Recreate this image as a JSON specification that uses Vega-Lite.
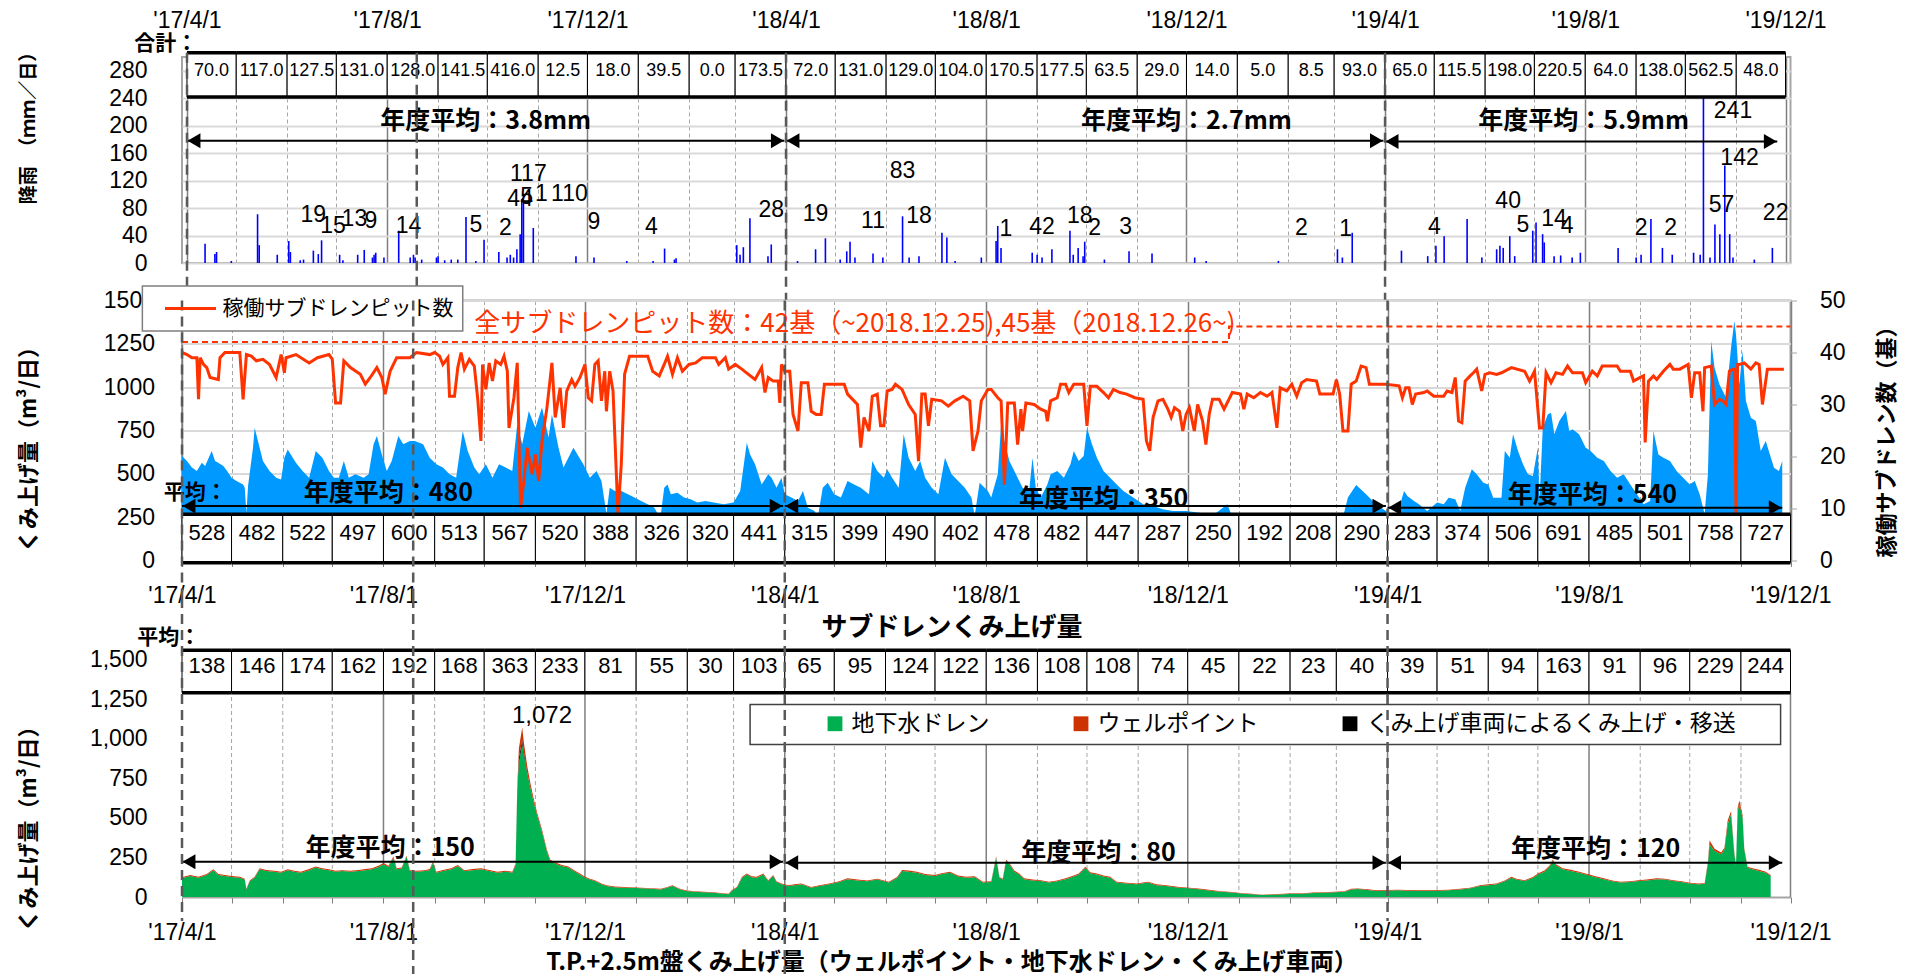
{
"$schema":"https://vega.github.io/schema/vega-lite/v6.json",
"background":"white",
"padding":{"left":16,"top":8,"right":10,"bottom":5},
"bounds":"flush",
"spacing":37.5,
"config":{"font":"Liberation Sans","view":{"stroke":null},
 "axis":{"labelFont":"Liberation Sans","labelFontSize":23,"labelColor":"black","titleColor":"black","titleFont":"Noto Sans CJK JP","titleFontWeight":"bold","labelOverlap":false,"labelBound":false}},
"resolve":{"scale":{"color":"independent","stroke":"independent"},"legend":{"color":"independent","stroke":"independent"}},
"datasets":{
"months":[
{"m":"2017-04-01","m2":"2017-05-01","rain":70.0,"sub":528,"tp":138},{"m":"2017-05-01","m2":"2017-06-01","rain":117.0,"sub":482,"tp":146},{"m":"2017-06-01","m2":"2017-07-01","rain":127.5,"sub":522,"tp":174},{"m":"2017-07-01","m2":"2017-08-01","rain":131.0,"sub":497,"tp":162},{"m":"2017-08-01","m2":"2017-09-01","rain":128.0,"sub":600,"tp":192},{"m":"2017-09-01","m2":"2017-10-01","rain":141.5,"sub":513,"tp":168},{"m":"2017-10-01","m2":"2017-11-01","rain":416.0,"sub":567,"tp":363},{"m":"2017-11-01","m2":"2017-12-01","rain":12.5,"sub":520,"tp":233},{"m":"2017-12-01","m2":"2018-01-01","rain":18.0,"sub":388,"tp":81},{"m":"2018-01-01","m2":"2018-02-01","rain":39.5,"sub":326,"tp":55},{"m":"2018-02-01","m2":"2018-03-01","rain":0.0,"sub":320,"tp":30},{"m":"2018-03-01","m2":"2018-04-01","rain":173.5,"sub":441,"tp":103},
{"m":"2018-04-01","m2":"2018-05-01","rain":72.0,"sub":315,"tp":65},{"m":"2018-05-01","m2":"2018-06-01","rain":131.0,"sub":399,"tp":95},{"m":"2018-06-01","m2":"2018-07-01","rain":129.0,"sub":490,"tp":124},{"m":"2018-07-01","m2":"2018-08-01","rain":104.0,"sub":402,"tp":122},{"m":"2018-08-01","m2":"2018-09-01","rain":170.5,"sub":478,"tp":136},{"m":"2018-09-01","m2":"2018-10-01","rain":177.5,"sub":482,"tp":108},{"m":"2018-10-01","m2":"2018-11-01","rain":63.5,"sub":447,"tp":108},{"m":"2018-11-01","m2":"2018-12-01","rain":29.0,"sub":287,"tp":74},{"m":"2018-12-01","m2":"2019-01-01","rain":14.0,"sub":250,"tp":45},{"m":"2019-01-01","m2":"2019-02-01","rain":5.0,"sub":192,"tp":22},{"m":"2019-02-01","m2":"2019-03-01","rain":8.5,"sub":208,"tp":23},{"m":"2019-03-01","m2":"2019-04-01","rain":93.0,"sub":290,"tp":40},
{"m":"2019-04-01","m2":"2019-05-01","rain":65.0,"sub":283,"tp":39},{"m":"2019-05-01","m2":"2019-06-01","rain":115.5,"sub":374,"tp":51},{"m":"2019-06-01","m2":"2019-07-01","rain":198.0,"sub":506,"tp":94},{"m":"2019-07-01","m2":"2019-08-01","rain":220.5,"sub":691,"tp":163},{"m":"2019-08-01","m2":"2019-09-01","rain":64.0,"sub":485,"tp":91},{"m":"2019-09-01","m2":"2019-10-01","rain":138.0,"sub":501,"tp":96},{"m":"2019-10-01","m2":"2019-11-01","rain":562.5,"sub":758,"tp":229},{"m":"2019-11-01","m2":"2019-12-01","rain":48.0,"sub":727,"tp":244}],
"rain":[
{"d":"2017-04-12","v":28},{"d":"2017-04-18","v":13},{"d":"2017-04-19","v":16},{"d":"2017-04-28","v":3},{"d":"2017-05-14","v":71},{"d":"2017-05-15","v":26},{"d":"2017-05-26","v":12},{"d":"2017-06-02","v":32},{"d":"2017-06-03","v":16},{"d":"2017-06-09","v":4},{"d":"2017-06-11","v":5},{"d":"2017-06-17","v":18},{"d":"2017-06-20","v":13},{"d":"2017-06-22","v":33},{"d":"2017-07-03","v":12},{"d":"2017-07-05","v":4},{"d":"2017-07-14","v":12},{"d":"2017-07-18","v":19},{"d":"2017-07-23","v":8},{"d":"2017-07-24","v":12},{"d":"2017-07-25","v":15},{"d":"2017-07-30","v":8},{"d":"2017-08-08","v":47},{"d":"2017-08-15","v":8},{"d":"2017-08-17","v":12},{"d":"2017-08-18","v":8},{"d":"2017-08-22","v":5},{"d":"2017-08-31","v":8},{"d":"2017-09-01","v":10},{"d":"2017-09-05","v":4},{"d":"2017-09-09","v":5},{"d":"2017-09-13","v":5},{"d":"2017-09-18","v":67},{"d":"2017-09-24","v":3},{"d":"2017-09-29","v":34},{"d":"2017-10-08","v":16},{"d":"2017-10-13","v":8},{"d":"2017-10-15","v":12},{"d":"2017-10-17","v":8},{"d":"2017-10-19","v":20},{"d":"2017-10-21","v":42},{"d":"2017-10-22","v":93},{"d":"2017-10-23","v":100},{"d":"2017-10-29","v":51},{"d":"2017-11-24","v":10},{"d":"2017-12-05","v":8},{"d":"2017-12-25","v":3},{"d":"2018-01-10","v":3},{"d":"2018-01-17","v":21},{"d":"2018-01-23","v":5},{"d":"2018-01-24","v":7},{"d":"2018-03-02","v":26},{"d":"2018-03-04","v":12},{"d":"2018-03-06","v":23},{"d":"2018-03-10","v":65},{"d":"2018-03-21","v":10},{"d":"2018-03-23","v":27},
{"d":"2018-04-08","v":3},{"d":"2018-04-19","v":20},{"d":"2018-04-25","v":36},{"d":"2018-05-04","v":5},{"d":"2018-05-08","v":17},{"d":"2018-05-10","v":31},{"d":"2018-05-13","v":8},{"d":"2018-05-24","v":14},{"d":"2018-05-30","v":8},{"d":"2018-06-11","v":68},{"d":"2018-06-15","v":8},{"d":"2018-06-21","v":10},{"d":"2018-07-05","v":44},{"d":"2018-07-08","v":37},{"d":"2018-07-13","v":3},{"d":"2018-07-29","v":8},{"d":"2018-08-07","v":32},{"d":"2018-08-08","v":54},{"d":"2018-08-10","v":22},{"d":"2018-08-29","v":15},{"d":"2018-09-01","v":12},{"d":"2018-09-04","v":8},{"d":"2018-09-10","v":20},{"d":"2018-09-21","v":47},{"d":"2018-09-23","v":12},{"d":"2018-09-26","v":22},{"d":"2018-09-29","v":10},{"d":"2018-09-30","v":31},{"d":"2018-10-12","v":5},{"d":"2018-10-27","v":17},{"d":"2018-11-10","v":14},{"d":"2018-12-06","v":8},{"d":"2018-12-13","v":3},{"d":"2019-01-26","v":3},{"d":"2019-03-03","v":20},{"d":"2019-03-06","v":8},{"d":"2019-03-12","v":44},
{"d":"2019-04-11","v":18},{"d":"2019-04-27","v":10},{"d":"2019-05-02","v":25},{"d":"2019-05-07","v":39},{"d":"2019-05-21","v":64},{"d":"2019-05-30","v":8},{"d":"2019-06-08","v":20},{"d":"2019-06-10","v":25},{"d":"2019-06-12","v":22},{"d":"2019-06-16","v":39},{"d":"2019-06-19","v":10},{"d":"2019-06-30","v":47},{"d":"2019-07-02","v":59},{"d":"2019-07-06","v":42},{"d":"2019-07-07","v":30},{"d":"2019-07-13","v":10},{"d":"2019-07-17","v":11},{"d":"2019-07-24","v":8},{"d":"2019-07-29","v":15},{"d":"2019-08-21","v":22},{"d":"2019-09-01","v":8},{"d":"2019-09-04","v":12},{"d":"2019-09-10","v":64},{"d":"2019-09-17","v":22},{"d":"2019-09-23","v":12},{"d":"2019-10-06","v":15},{"d":"2019-10-10","v":12},{"d":"2019-10-12","v":241},{"d":"2019-10-16","v":8},{"d":"2019-10-19","v":56},{"d":"2019-10-22","v":42},{"d":"2019-10-25","v":142},{"d":"2019-10-28","v":42},{"d":"2019-10-30","v":8},{"d":"2019-11-12","v":5},{"d":"2019-11-23","v":22}],
"rainlab":[
{"d":"2017-06-17","v":70,"t":"19"},{"d":"2017-06-29","v":54,"t":"15"},{"d":"2017-07-12","v":64,"t":"13"},{"d":"2017-07-22","v":61,"t":"9"},{"d":"2017-08-14","v":54,"t":"14"},{"d":"2017-09-24","v":56,"t":"5"},{"d":"2017-10-12","v":51,"t":"2"},{"d":"2017-10-26","v":129,"t":"117"},{"d":"2017-10-21","v":93,"t":"44"},{"d":"2017-10-25","v":96,"t":"5"},{"d":"2017-11-03","v":100,"t":"1"},{"d":"2017-11-20","v":100,"t":"110"},{"d":"2017-12-05","v":59,"t":"9"},{"d":"2018-01-09","v":52,"t":"4"},{"d":"2018-03-23","v":77,"t":"28"},
{"d":"2018-04-19","v":71,"t":"19"},{"d":"2018-05-24","v":61,"t":"11"},{"d":"2018-06-11","v":134,"t":"83"},{"d":"2018-06-21","v":68,"t":"18"},{"d":"2018-08-13","v":49,"t":"1"},{"d":"2018-09-04","v":52,"t":"42"},{"d":"2018-09-27","v":68,"t":"18"},{"d":"2018-10-06","v":51,"t":"2"},{"d":"2018-10-25","v":52,"t":"3"},{"d":"2019-02-09","v":51,"t":"2"},{"d":"2019-03-08","v":50,"t":"1"},
{"d":"2019-05-01","v":52,"t":"4"},{"d":"2019-06-15","v":90,"t":"40"},{"d":"2019-06-24","v":55,"t":"5"},{"d":"2019-07-13","v":64,"t":"14"},{"d":"2019-07-21","v":54,"t":"4"},{"d":"2019-09-04","v":51,"t":"2"},{"d":"2019-09-22","v":51,"t":"2"},{"d":"2019-10-30","v":222,"t":"241"},{"d":"2019-11-03","v":153,"t":"142"},{"d":"2019-10-23","v":84,"t":"57"},{"d":"2019-11-25","v":73,"t":"22"}],
"sub":[
{"d":"2017-04-01","v":603},{"d":"2017-04-04","v":574},{"d":"2017-04-07","v":536},{"d":"2017-04-10","v":516},{"d":"2017-04-13","v":564},{"d":"2017-04-15","v":545},{"d":"2017-04-19","v":632},{"d":"2017-04-21","v":574},{"d":"2017-04-23","v":564},{"d":"2017-04-26","v":545},{"d":"2017-04-28","v":520},{"d":"2017-05-01","v":478},{"d":"2017-05-04","v":459},{"d":"2017-05-08","v":439},{"d":"2017-05-09","v":420},{"d":"2017-05-10","v":276},{"d":"2017-05-11","v":430},{"d":"2017-05-14","v":651},{"d":"2017-05-15","v":766},{"d":"2017-05-17","v":689},{"d":"2017-05-20","v":574},{"d":"2017-05-24","v":516},{"d":"2017-05-28","v":478},{"d":"2017-05-31","v":468},{"d":"2017-06-02","v":593},{"d":"2017-06-04","v":641},{"d":"2017-06-09","v":564},{"d":"2017-06-13","v":516},{"d":"2017-06-17","v":478},{"d":"2017-06-21","v":632},{"d":"2017-06-25","v":593},{"d":"2017-06-29","v":516},{"d":"2017-07-02","v":478},{"d":"2017-07-05","v":478},{"d":"2017-07-08","v":574},{"d":"2017-07-11","v":478},{"d":"2017-07-15","v":497},{"d":"2017-07-20","v":478},{"d":"2017-07-23","v":497},{"d":"2017-07-26","v":670},{"d":"2017-07-28","v":718},{"d":"2017-07-31","v":612},{"d":"2017-08-03","v":516},{"d":"2017-08-06","v":574},{"d":"2017-08-10","v":718},{"d":"2017-08-13","v":670},{"d":"2017-08-17","v":689},{"d":"2017-08-20","v":689},{"d":"2017-08-25","v":670},{"d":"2017-08-29","v":593},{"d":"2017-09-02","v":555},{"d":"2017-09-06","v":536},{"d":"2017-09-10","v":497},{"d":"2017-09-14","v":478},{"d":"2017-09-18","v":747},{"d":"2017-09-21","v":632},{"d":"2017-09-25","v":536},{"d":"2017-09-28","v":497},{"d":"2017-10-02","v":555},{"d":"2017-10-06","v":478},{"d":"2017-10-10","v":555},{"d":"2017-10-14","v":536},{"d":"2017-10-18","v":516},{"d":"2017-10-21","v":786},{"d":"2017-10-24","v":670},{"d":"2017-10-28","v":862},{"d":"2017-11-01","v":766},{"d":"2017-11-05","v":882},{"d":"2017-11-09","v":709},{"d":"2017-11-11","v":843},{"d":"2017-11-15","v":651},{"d":"2017-11-18","v":536},{"d":"2017-11-24","v":651},{"d":"2017-11-30","v":555},{"d":"2017-12-04","v":478},{"d":"2017-12-08","v":516},{"d":"2017-12-11","v":459},{"d":"2017-12-14","v":270},{"d":"2017-12-16","v":420},{"d":"2017-12-19","v":401},{"d":"2017-12-23","v":401},{"d":"2017-12-27","v":382},{"d":"2017-12-31","v":363},{"d":"2018-01-04","v":343},{"d":"2018-01-08","v":324},{"d":"2018-01-12","v":305},{"d":"2018-01-14","v":270},{"d":"2018-01-16","v":270},{"d":"2018-01-18","v":420},{"d":"2018-01-20","v":439},{"d":"2018-01-22","v":382},{"d":"2018-01-26","v":391},{"d":"2018-01-30","v":363},{"d":"2018-02-03","v":353},{"d":"2018-02-07","v":334},{"d":"2018-02-12","v":343},{"d":"2018-02-17","v":334},{"d":"2018-02-23","v":324},{"d":"2018-03-01","v":334},{"d":"2018-03-05","v":401},{"d":"2018-03-09","v":680},{"d":"2018-03-11","v":612},{"d":"2018-03-14","v":555},{"d":"2018-03-18","v":439},{"d":"2018-03-22","v":497},{"d":"2018-03-24","v":478},{"d":"2018-03-27","v":420},{"d":"2018-03-30","v":478},
{"d":"2018-04-01","v":382},{"d":"2018-04-05","v":363},{"d":"2018-04-09","v":343},{"d":"2018-04-12","v":401},{"d":"2018-04-15","v":305},{"d":"2018-04-19","v":286},{"d":"2018-04-21","v":250},{"d":"2018-04-24","v":420},{"d":"2018-04-27","v":449},{"d":"2018-05-01","v":382},{"d":"2018-05-05","v":363},{"d":"2018-05-09","v":459},{"d":"2018-05-13","v":439},{"d":"2018-05-17","v":420},{"d":"2018-05-22","v":382},{"d":"2018-05-24","v":574},{"d":"2018-05-27","v":516},{"d":"2018-05-31","v":478},{"d":"2018-06-02","v":526},{"d":"2018-06-05","v":478},{"d":"2018-06-09","v":420},{"d":"2018-06-12","v":728},{"d":"2018-06-15","v":593},{"d":"2018-06-19","v":516},{"d":"2018-06-22","v":574},{"d":"2018-06-25","v":478},{"d":"2018-06-29","v":420},{"d":"2018-07-03","v":382},{"d":"2018-07-07","v":593},{"d":"2018-07-11","v":497},{"d":"2018-07-15","v":459},{"d":"2018-07-19","v":420},{"d":"2018-07-23","v":363},{"d":"2018-07-25","v":260},{"d":"2018-07-28","v":449},{"d":"2018-08-02","v":401},{"d":"2018-08-04","v":363},{"d":"2018-08-08","v":497},{"d":"2018-08-10","v":786},{"d":"2018-08-12","v":689},{"d":"2018-08-15","v":574},{"d":"2018-08-19","v":497},{"d":"2018-08-23","v":420},{"d":"2018-08-27","v":401},{"d":"2018-08-29","v":593},{"d":"2018-08-31","v":420},{"d":"2018-09-03","v":363},{"d":"2018-09-07","v":439},{"d":"2018-09-09","v":497},{"d":"2018-09-13","v":516},{"d":"2018-09-17","v":478},{"d":"2018-09-21","v":555},{"d":"2018-09-23","v":632},{"d":"2018-09-26","v":574},{"d":"2018-09-29","v":603},{"d":"2018-10-01","v":766},{"d":"2018-10-04","v":670},{"d":"2018-10-07","v":593},{"d":"2018-10-11","v":516},{"d":"2018-10-15","v":478},{"d":"2018-10-19","v":439},{"d":"2018-10-23","v":401},{"d":"2018-10-29","v":363},{"d":"2018-11-04","v":324},{"d":"2018-11-10","v":314},{"d":"2018-11-16","v":295},{"d":"2018-11-22","v":286},{"d":"2018-11-30","v":286},{"d":"2018-12-08","v":276},{"d":"2018-12-17","v":266},{"d":"2018-12-25","v":324},{"d":"2018-12-28","v":250},{"d":"2019-01-06","v":230},{"d":"2019-01-16","v":210},{"d":"2019-01-26","v":200},{"d":"2019-02-05","v":215},{"d":"2019-02-15","v":205},{"d":"2019-02-25","v":210},{"d":"2019-03-05","v":250},{"d":"2019-03-08","v":363},{"d":"2019-03-13","v":436},{"d":"2019-03-19","v":382},{"d":"2019-03-25","v":324},{"d":"2019-03-31","v":286},
{"d":"2019-04-02","v":266},{"d":"2019-04-06","v":240},{"d":"2019-04-11","v":401},{"d":"2019-04-13","v":372},{"d":"2019-04-17","v":343},{"d":"2019-04-20","v":324},{"d":"2019-04-25","v":286},{"d":"2019-05-01","v":334},{"d":"2019-05-05","v":324},{"d":"2019-05-08","v":362},{"d":"2019-05-12","v":353},{"d":"2019-05-15","v":286},{"d":"2019-05-18","v":420},{"d":"2019-05-22","v":526},{"d":"2019-05-25","v":497},{"d":"2019-05-29","v":449},{"d":"2019-06-01","v":439},{"d":"2019-06-04","v":362},{"d":"2019-06-09","v":362},{"d":"2019-06-11","v":632},{"d":"2019-06-14","v":593},{"d":"2019-06-16","v":728},{"d":"2019-06-19","v":632},{"d":"2019-06-22","v":555},{"d":"2019-06-25","v":497},{"d":"2019-06-28","v":487},{"d":"2019-07-01","v":651},{"d":"2019-07-02","v":343},{"d":"2019-07-04","v":766},{"d":"2019-07-07","v":843},{"d":"2019-07-09","v":853},{"d":"2019-07-11","v":728},{"d":"2019-07-14","v":805},{"d":"2019-07-18","v":862},{"d":"2019-07-20","v":747},{"d":"2019-07-22","v":757},{"d":"2019-07-26","v":728},{"d":"2019-07-30","v":651},{"d":"2019-08-02","v":632},{"d":"2019-08-06","v":593},{"d":"2019-08-10","v":574},{"d":"2019-08-14","v":516},{"d":"2019-08-18","v":478},{"d":"2019-08-22","v":497},{"d":"2019-08-26","v":439},{"d":"2019-08-30","v":382},{"d":"2019-09-03","v":324},{"d":"2019-09-07","v":343},{"d":"2019-09-09","v":747},{"d":"2019-09-12","v":612},{"d":"2019-09-15","v":593},{"d":"2019-09-19","v":574},{"d":"2019-09-23","v":516},{"d":"2019-09-27","v":478},{"d":"2019-10-01","v":439},{"d":"2019-10-04","v":459},{"d":"2019-10-07","v":382},{"d":"2019-10-10","v":270},{"d":"2019-10-12","v":497},{"d":"2019-10-14","v":1266},{"d":"2019-10-16","v":1112},{"d":"2019-10-19","v":1016},{"d":"2019-10-23","v":939},{"d":"2019-10-26","v":1228},{"d":"2019-10-28","v":1382},{"d":"2019-10-29","v":1305},{"d":"2019-10-31","v":1016},{"d":"2019-11-02","v":1209},{"d":"2019-11-04","v":920},{"d":"2019-11-07","v":824},{"d":"2019-11-10","v":805},{"d":"2019-11-13","v":632},{"d":"2019-11-16","v":690},{"d":"2019-11-21","v":535},{"d":"2019-11-24","v":516},{"d":"2019-11-26","v":574}],
"pits":[
{"d":"2017-04-01","n":40},{"d":"2017-04-04","n":39.6},{"d":"2017-04-07","n":39},{"d":"2017-04-10","n":39},{"d":"2017-04-11","n":31},{"d":"2017-04-12","n":39},{"d":"2017-04-14","n":37.7},{"d":"2017-04-16","n":37.1},{"d":"2017-04-18","n":35.2},{"d":"2017-04-23","n":34.8},{"d":"2017-04-24","n":39},{"d":"2017-04-27","n":40},{"d":"2017-05-06","n":40},{"d":"2017-05-08","n":31},{"d":"2017-05-10","n":39.6},{"d":"2017-05-13","n":39.3},{"d":"2017-05-16","n":38.4},{"d":"2017-05-20","n":38.7},{"d":"2017-05-24","n":37.7},{"d":"2017-05-28","n":35.2},{"d":"2017-05-31","n":39.6},{"d":"2017-06-02","n":36.1},{"d":"2017-06-03","n":39},{"d":"2017-06-09","n":39.6},{"d":"2017-06-17","n":38},{"d":"2017-06-22","n":39},{"d":"2017-06-29","n":39.6},{"d":"2017-07-01","n":38.7},{"d":"2017-07-03","n":30.3},{"d":"2017-07-06","n":30.3},{"d":"2017-07-08","n":38.4},{"d":"2017-07-12","n":37.1},{"d":"2017-07-18","n":35.8},{"d":"2017-07-21","n":33.9},{"d":"2017-07-24","n":35.2},{"d":"2017-07-28","n":37.1},{"d":"2017-07-31","n":35.2},{"d":"2017-08-02","n":32},{"d":"2017-08-05","n":36.4},{"d":"2017-08-09","n":39},{"d":"2017-08-17","n":39},{"d":"2017-08-21","n":40},{"d":"2017-08-29","n":39.6},{"d":"2017-09-01","n":40},{"d":"2017-09-04","n":39.3},{"d":"2017-09-06","n":37.7},{"d":"2017-09-09","n":39},{"d":"2017-09-10","n":31.6},{"d":"2017-09-13","n":31.6},{"d":"2017-09-15","n":37.1},{"d":"2017-09-17","n":40},{"d":"2017-09-19","n":36.8},{"d":"2017-09-22","n":38.7},{"d":"2017-09-25","n":37.4},{"d":"2017-09-27","n":31.3},{"d":"2017-09-29","n":23},{"d":"2017-09-30","n":37.7},{"d":"2017-10-02","n":32.9},{"d":"2017-10-04","n":38},{"d":"2017-10-06","n":34.5},{"d":"2017-10-08","n":38.4},{"d":"2017-10-11","n":37.7},{"d":"2017-10-13","n":39.3},{"d":"2017-10-15","n":36.4},{"d":"2017-10-16","n":25.5},{"d":"2017-10-19","n":31.3},{"d":"2017-10-21","n":38},{"d":"2017-10-23","n":10.1},{"d":"2017-10-25","n":15.3},{"d":"2017-10-27","n":21.7},{"d":"2017-10-30","n":16.6},{"d":"2017-11-01","n":20.4},{"d":"2017-11-03","n":15.3},{"d":"2017-11-05","n":23},{"d":"2017-11-08","n":29.4},{"d":"2017-11-11","n":38},{"d":"2017-11-13","n":27.5},{"d":"2017-11-16","n":33.2},{"d":"2017-11-18","n":25.5},{"d":"2017-11-20","n":32.6},{"d":"2017-11-23","n":34.8},{"d":"2017-11-25","n":33.5},{"d":"2017-11-28","n":35.2},{"d":"2017-12-01","n":37.7},{"d":"2017-12-03","n":31.3},{"d":"2017-12-05","n":30.7},{"d":"2017-12-07","n":37.7},{"d":"2017-12-09","n":38.4},{"d":"2017-12-11","n":30.7},{"d":"2017-12-13","n":36.4},{"d":"2017-12-14","n":28.7},{"d":"2017-12-16","n":36.4},{"d":"2017-12-18","n":32.6},{"d":"2017-12-21","n":8.9},{"d":"2017-12-23","n":18.5},{"d":"2017-12-25","n":35.8},{"d":"2017-12-28","n":39.3},{"d":"2018-01-08","n":39.3},{"d":"2018-01-11","n":36.4},{"d":"2018-01-15","n":35.5},{"d":"2018-01-18","n":37.7},{"d":"2018-01-20","n":39.3},{"d":"2018-01-23","n":35.8},{"d":"2018-01-26","n":39},{"d":"2018-01-29","n":36.4},{"d":"2018-02-02","n":37.7},{"d":"2018-02-06","n":38},{"d":"2018-02-10","n":39},{"d":"2018-02-18","n":39},{"d":"2018-02-20","n":37.7},{"d":"2018-02-24","n":39},{"d":"2018-02-26","n":36.8},{"d":"2018-03-02","n":37.7},{"d":"2018-03-06","n":36.8},{"d":"2018-03-10","n":35.8},{"d":"2018-03-14","n":34.8},{"d":"2018-03-18","n":37.1},{"d":"2018-03-20","n":32.3},{"d":"2018-03-22","n":35.2},{"d":"2018-03-25","n":34.5},{"d":"2018-03-28","n":34.5},{"d":"2018-03-29","n":30.3},{"d":"2018-03-30","n":37.7},
{"d":"2018-04-01","n":36.4},{"d":"2018-04-04","n":36.4},{"d":"2018-04-06","n":28.1},{"d":"2018-04-09","n":24.9},{"d":"2018-04-11","n":34.2},{"d":"2018-04-15","n":34.2},{"d":"2018-04-17","n":28.7},{"d":"2018-04-20","n":28.1},{"d":"2018-04-23","n":28.1},{"d":"2018-04-25","n":33.9},{"d":"2018-05-07","n":33.9},{"d":"2018-05-09","n":32},{"d":"2018-05-15","n":30},{"d":"2018-05-17","n":21.7},{"d":"2018-05-19","n":27.5},{"d":"2018-05-22","n":24.9},{"d":"2018-05-24","n":31.6},{"d":"2018-05-27","n":32},{"d":"2018-05-29","n":25.9},{"d":"2018-05-31","n":25.9},{"d":"2018-06-02","n":32.6},{"d":"2018-06-05","n":32.9},{"d":"2018-06-07","n":33.9},{"d":"2018-06-11","n":32.9},{"d":"2018-06-15","n":30},{"d":"2018-06-19","n":28.1},{"d":"2018-06-21","n":19.1},{"d":"2018-06-23","n":32},{"d":"2018-06-25","n":32},{"d":"2018-06-27","n":25.9},{"d":"2018-06-29","n":31},{"d":"2018-07-05","n":30.7},{"d":"2018-07-09","n":29.7},{"d":"2018-07-13","n":30.7},{"d":"2018-07-18","n":31.6},{"d":"2018-07-22","n":30.7},{"d":"2018-07-24","n":21.1},{"d":"2018-07-27","n":24.9},{"d":"2018-07-29","n":30.7},{"d":"2018-08-02","n":32.9},{"d":"2018-08-04","n":32.9},{"d":"2018-08-08","n":31.3},{"d":"2018-08-10","n":30.7},{"d":"2018-08-12","n":14.6},{"d":"2018-08-14","n":30.3},{"d":"2018-08-18","n":30.3},{"d":"2018-08-20","n":22.3},{"d":"2018-08-22","n":29.1},{"d":"2018-08-23","n":24.9},{"d":"2018-08-25","n":30.3},{"d":"2018-08-30","n":30},{"d":"2018-09-03","n":29.1},{"d":"2018-09-06","n":28.7},{"d":"2018-09-07","n":26.8},{"d":"2018-09-09","n":30.7},{"d":"2018-09-13","n":31.3},{"d":"2018-09-15","n":33.9},{"d":"2018-09-18","n":33.9},{"d":"2018-09-20","n":32.3},{"d":"2018-09-23","n":33.9},{"d":"2018-09-29","n":33.9},{"d":"2018-10-01","n":25.9},{"d":"2018-10-03","n":33.5},{"d":"2018-10-07","n":33.5},{"d":"2018-10-11","n":32.3},{"d":"2018-10-14","n":31.3},{"d":"2018-10-17","n":32.9},{"d":"2018-10-21","n":32.3},{"d":"2018-10-25","n":32},{"d":"2018-10-30","n":31.3},{"d":"2018-11-04","n":31},{"d":"2018-11-06","n":23},{"d":"2018-11-08","n":21.1},{"d":"2018-11-10","n":27.5},{"d":"2018-11-13","n":30.7},{"d":"2018-11-16","n":31},{"d":"2018-11-19","n":29.1},{"d":"2018-11-21","n":27.5},{"d":"2018-11-23","n":29.4},{"d":"2018-11-26","n":28.7},{"d":"2018-11-28","n":24.9},{"d":"2018-11-30","n":28.1},{"d":"2018-12-02","n":29.4},{"d":"2018-12-05","n":24.9},{"d":"2018-12-07","n":30},{"d":"2018-12-10","n":26.8},{"d":"2018-12-12","n":22.3},{"d":"2018-12-14","n":28.1},{"d":"2018-12-16","n":31},{"d":"2018-12-20","n":31},{"d":"2018-12-23","n":29.1},{"d":"2018-12-28","n":32.3},{"d":"2019-01-02","n":32},{"d":"2019-01-04","n":29.1},{"d":"2019-01-06","n":32},{"d":"2019-01-10","n":31.3},{"d":"2019-01-14","n":32.3},{"d":"2019-01-18","n":31.6},{"d":"2019-01-21","n":32.3},{"d":"2019-01-24","n":25.5},{"d":"2019-01-26","n":33.2},{"d":"2019-01-30","n":32.6},{"d":"2019-02-02","n":33.9},{"d":"2019-02-05","n":31.6},{"d":"2019-02-08","n":34.2},{"d":"2019-02-11","n":34.8},{"d":"2019-02-17","n":34.5},{"d":"2019-02-19","n":32},{"d":"2019-02-27","n":32},{"d":"2019-03-01","n":34.8},{"d":"2019-03-03","n":32},{"d":"2019-03-05","n":24.9},{"d":"2019-03-08","n":24.9},{"d":"2019-03-10","n":33.9},{"d":"2019-03-13","n":34.5},{"d":"2019-03-16","n":37.4},{"d":"2019-03-19","n":37.1},{"d":"2019-03-21","n":33.9},{"d":"2019-03-31","n":33.9},
{"d":"2019-04-08","n":33.6},{"d":"2019-04-10","n":31.3},{"d":"2019-04-12","n":33.2},{"d":"2019-04-14","n":33.2},{"d":"2019-04-16","n":30},{"d":"2019-04-18","n":32},{"d":"2019-04-23","n":32.3},{"d":"2019-04-25","n":32.6},{"d":"2019-04-29","n":31.6},{"d":"2019-05-05","n":31.6},{"d":"2019-05-07","n":32.6},{"d":"2019-05-10","n":32.3},{"d":"2019-05-12","n":35.2},{"d":"2019-05-14","n":26.8},{"d":"2019-05-16","n":26.5},{"d":"2019-05-18","n":34.5},{"d":"2019-05-21","n":35.5},{"d":"2019-05-23","n":36.1},{"d":"2019-05-25","n":36.8},{"d":"2019-05-28","n":32.6},{"d":"2019-05-30","n":35.8},{"d":"2019-06-02","n":36.1},{"d":"2019-06-06","n":35.8},{"d":"2019-06-09","n":36.1},{"d":"2019-06-15","n":37.1},{"d":"2019-06-23","n":36.4},{"d":"2019-06-26","n":34.5},{"d":"2019-06-29","n":36.4},{"d":"2019-07-02","n":25.5},{"d":"2019-07-04","n":25.5},{"d":"2019-07-06","n":36.1},{"d":"2019-07-09","n":34.2},{"d":"2019-07-12","n":36.1},{"d":"2019-07-16","n":35.8},{"d":"2019-07-19","n":37.4},{"d":"2019-07-22","n":36.1},{"d":"2019-07-28","n":36.1},{"d":"2019-07-30","n":34.2},{"d":"2019-08-03","n":36.4},{"d":"2019-08-06","n":35.5},{"d":"2019-08-09","n":37.4},{"d":"2019-08-18","n":37.4},{"d":"2019-08-20","n":36.4},{"d":"2019-08-26","n":36.4},{"d":"2019-08-28","n":34.5},{"d":"2019-09-01","n":35.2},{"d":"2019-09-03","n":35.5},{"d":"2019-09-04","n":22.7},{"d":"2019-09-06","n":34.5},{"d":"2019-09-09","n":35.5},{"d":"2019-09-11","n":34.8},{"d":"2019-09-15","n":36.4},{"d":"2019-09-19","n":37.7},{"d":"2019-09-21","n":36.8},{"d":"2019-09-25","n":36.8},{"d":"2019-09-30","n":37.7},{"d":"2019-10-02","n":31.3},{"d":"2019-10-04","n":36.1},{"d":"2019-10-07","n":36.1},{"d":"2019-10-09","n":28.7},{"d":"2019-10-10","n":37.1},{"d":"2019-10-14","n":37.4},{"d":"2019-10-16","n":30},{"d":"2019-10-19","n":31},{"d":"2019-10-21","n":30.7},{"d":"2019-10-23","n":30},{"d":"2019-10-25","n":36.4},{"d":"2019-10-27","n":36.8},{"d":"2019-10-28","n":36.8},{"d":"2019-10-29","n":9},{"d":"2019-10-30","n":37.7},{"d":"2019-10-31","n":37.7},{"d":"2019-11-03","n":38},{"d":"2019-11-07","n":36.8},{"d":"2019-11-10","n":38},{"d":"2019-11-12","n":37.7},{"d":"2019-11-14","n":30},{"d":"2019-11-17","n":36.8},{"d":"2019-11-27","n":36.8}],
"tp":[
{"d":"2017-04-01","drain":115,"lorry":0,"point":6},{"d":"2017-04-02","drain":122,"lorry":0,"point":6},{"d":"2017-04-06","drain":133,"lorry":0,"point":7},{"d":"2017-04-11","drain":122,"lorry":0,"point":6},{"d":"2017-04-16","drain":140,"lorry":0,"point":6},{"d":"2017-04-20","drain":169,"lorry":0,"point":7},{"d":"2017-04-23","drain":140,"lorry":0,"point":6},{"d":"2017-04-27","drain":133,"lorry":0,"point":6},{"d":"2017-05-01","drain":127,"lorry":0,"point":6},{"d":"2017-05-06","drain":122,"lorry":0,"point":6},{"d":"2017-05-09","drain":110,"lorry":0,"point":5},{"d":"2017-05-10","drain":48,"lorry":0,"point":4},{"d":"2017-05-12","drain":100,"lorry":0,"point":5},{"d":"2017-05-15","drain":122,"lorry":0,"point":6},{"d":"2017-05-18","drain":175,"lorry":0,"point":7},{"d":"2017-05-22","drain":164,"lorry":0,"point":7},{"d":"2017-05-27","drain":160,"lorry":0,"point":6},{"d":"2017-05-31","drain":154,"lorry":0,"point":6},{"d":"2017-06-04","drain":169,"lorry":0,"point":7},{"d":"2017-06-08","drain":160,"lorry":0,"point":6},{"d":"2017-06-12","drain":154,"lorry":0,"point":6},{"d":"2017-06-17","drain":170,"lorry":0,"point":7},{"d":"2017-06-21","drain":186,"lorry":0,"point":7},{"d":"2017-06-25","drain":175,"lorry":0,"point":7},{"d":"2017-06-29","drain":169,"lorry":0,"point":6},{"d":"2017-07-03","drain":160,"lorry":0,"point":6},{"d":"2017-07-07","drain":164,"lorry":0,"point":6},{"d":"2017-07-12","drain":160,"lorry":0,"point":6},{"d":"2017-07-17","drain":164,"lorry":0,"point":7},{"d":"2017-07-21","drain":170,"lorry":0,"point":7},{"d":"2017-07-25","drain":175,"lorry":0,"point":7},{"d":"2017-07-29","drain":190,"lorry":0,"point":7},{"d":"2017-08-01","drain":207,"lorry":0,"point":8},{"d":"2017-08-04","drain":190,"lorry":0,"point":7},{"d":"2017-08-07","drain":249,"lorry":0,"point":8},{"d":"2017-08-09","drain":175,"lorry":0,"point":7},{"d":"2017-08-12","drain":180,"lorry":0,"point":7},{"d":"2017-08-15","drain":253,"lorry":0,"point":8},{"d":"2017-08-17","drain":164,"lorry":0,"point":6},{"d":"2017-08-21","drain":160,"lorry":0,"point":6},{"d":"2017-08-26","drain":164,"lorry":0,"point":6},{"d":"2017-08-29","drain":170,"lorry":0,"point":7},{"d":"2017-08-31","drain":217,"lorry":0,"point":8},{"d":"2017-09-02","drain":154,"lorry":0,"point":6},{"d":"2017-09-06","drain":165,"lorry":0,"point":6},{"d":"2017-09-11","drain":175,"lorry":0,"point":7},{"d":"2017-09-15","drain":196,"lorry":0,"point":7},{"d":"2017-09-19","drain":164,"lorry":0,"point":6},{"d":"2017-09-24","drain":170,"lorry":0,"point":7},{"d":"2017-09-29","drain":175,"lorry":0,"point":7},{"d":"2017-10-04","drain":165,"lorry":0,"point":6},{"d":"2017-10-09","drain":154,"lorry":0,"point":6},{"d":"2017-10-14","drain":160,"lorry":0,"point":6},{"d":"2017-10-18","drain":154,"lorry":0,"point":6},{"d":"2017-10-20","drain":200,"lorry":0,"point":10},{"d":"2017-10-21","drain":671,"lorry":0,"point":20},{"d":"2017-10-22","drain":850,"lorry":30,"point":60},{"d":"2017-10-24","drain":966,"lorry":26,"point":80},{"d":"2017-10-25","drain":900,"lorry":20,"point":60},{"d":"2017-10-27","drain":780,"lorry":10,"point":40},{"d":"2017-10-29","drain":688,"lorry":0,"point":30},{"d":"2017-10-31","drain":600,"lorry":0,"point":20},{"d":"2017-11-02","drain":519,"lorry":0,"point":15},{"d":"2017-11-05","drain":413,"lorry":0,"point":12},{"d":"2017-11-08","drain":287,"lorry":0,"point":10},{"d":"2017-11-10","drain":228,"lorry":0,"point":8},{"d":"2017-11-14","drain":207,"lorry":0,"point":8},{"d":"2017-11-17","drain":196,"lorry":0,"point":7},{"d":"2017-11-21","drain":186,"lorry":0,"point":7},{"d":"2017-11-25","drain":160,"lorry":0,"point":6},{"d":"2017-11-28","drain":143,"lorry":0,"point":6},{"d":"2017-12-01","drain":122,"lorry":0,"point":6},{"d":"2017-12-04","drain":110,"lorry":0,"point":5},{"d":"2017-12-07","drain":101,"lorry":0,"point":5},{"d":"2017-12-11","drain":80,"lorry":0,"point":5},{"d":"2017-12-14","drain":70,"lorry":0,"point":5},{"d":"2017-12-19","drain":62,"lorry":0,"point":4},{"d":"2017-12-25","drain":59,"lorry":0,"point":4},{"d":"2017-12-29","drain":58,"lorry":0,"point":4},{"d":"2018-01-04","drain":55,"lorry":0,"point":4},{"d":"2018-01-10","drain":52,"lorry":0,"point":4},{"d":"2018-01-16","drain":48,"lorry":0,"point":4},{"d":"2018-01-20","drain":60,"lorry":0,"point":4},{"d":"2018-01-23","drain":70,"lorry":0,"point":5},{"d":"2018-01-27","drain":50,"lorry":0,"point":4},{"d":"2018-01-31","drain":38,"lorry":0,"point":4},{"d":"2018-02-05","drain":34,"lorry":0,"point":3},{"d":"2018-02-11","drain":30,"lorry":0,"point":3},{"d":"2018-02-17","drain":27,"lorry":0,"point":3},{"d":"2018-02-21","drain":22,"lorry":0,"point":3},{"d":"2018-02-26","drain":17,"lorry":0,"point":3},{"d":"2018-02-28","drain":40,"lorry":0,"point":4},{"d":"2018-03-03","drain":59,"lorry":0,"point":4},{"d":"2018-03-06","drain":120,"lorry":0,"point":6},{"d":"2018-03-09","drain":143,"lorry":0,"point":6},{"d":"2018-03-12","drain":125,"lorry":0,"point":6},{"d":"2018-03-15","drain":122,"lorry":0,"point":6},{"d":"2018-03-19","drain":143,"lorry":0,"point":6},{"d":"2018-03-22","drain":101,"lorry":0,"point":5},{"d":"2018-03-25","drain":133,"lorry":0,"point":6},{"d":"2018-03-27","drain":95,"lorry":0,"point":5},{"d":"2018-03-30","drain":80,"lorry":0,"point":5},
{"d":"2018-04-03","drain":70,"lorry":0,"point":5},{"d":"2018-04-07","drain":75,"lorry":0,"point":5},{"d":"2018-04-11","drain":80,"lorry":0,"point":5},{"d":"2018-04-17","drain":59,"lorry":0,"point":4},{"d":"2018-04-22","drain":70,"lorry":0,"point":5},{"d":"2018-04-28","drain":80,"lorry":0,"point":5},{"d":"2018-05-04","drain":95,"lorry":0,"point":5},{"d":"2018-05-09","drain":112,"lorry":0,"point":6},{"d":"2018-05-15","drain":105,"lorry":0,"point":5},{"d":"2018-05-21","drain":100,"lorry":0,"point":5},{"d":"2018-05-27","drain":110,"lorry":0,"point":6},{"d":"2018-06-03","drain":91,"lorry":0,"point":5},{"d":"2018-06-08","drain":120,"lorry":0,"point":6},{"d":"2018-06-11","drain":164,"lorry":0,"point":7},{"d":"2018-06-15","drain":160,"lorry":0,"point":7},{"d":"2018-06-20","drain":154,"lorry":0,"point":6},{"d":"2018-06-25","drain":140,"lorry":0,"point":6},{"d":"2018-07-01","drain":133,"lorry":0,"point":6},{"d":"2018-07-05","drain":145,"lorry":0,"point":6},{"d":"2018-07-10","drain":154,"lorry":0,"point":6},{"d":"2018-07-15","drain":130,"lorry":0,"point":6},{"d":"2018-07-20","drain":122,"lorry":0,"point":6},{"d":"2018-07-25","drain":125,"lorry":0,"point":6},{"d":"2018-07-30","drain":91,"lorry":0,"point":5},{"d":"2018-08-04","drain":95,"lorry":0,"point":5},{"d":"2018-08-07","drain":249,"lorry":0,"point":8},{"d":"2018-08-09","drain":120,"lorry":0,"point":6},{"d":"2018-08-11","drain":110,"lorry":0,"point":6},{"d":"2018-08-13","drain":228,"lorry":0,"point":8},{"d":"2018-08-15","drain":207,"lorry":0,"point":8},{"d":"2018-08-18","drain":160,"lorry":0,"point":7},{"d":"2018-08-21","drain":143,"lorry":0,"point":6},{"d":"2018-08-24","drain":112,"lorry":0,"point":6},{"d":"2018-08-29","drain":105,"lorry":0,"point":5},{"d":"2018-09-03","drain":101,"lorry":0,"point":5},{"d":"2018-09-08","drain":91,"lorry":0,"point":5},{"d":"2018-09-13","drain":100,"lorry":0,"point":5},{"d":"2018-09-18","drain":112,"lorry":0,"point":6},{"d":"2018-09-23","drain":130,"lorry":0,"point":6},{"d":"2018-09-26","drain":143,"lorry":0,"point":6},{"d":"2018-09-30","drain":185,"lorry":0,"point":7},{"d":"2018-10-03","drain":150,"lorry":0,"point":6},{"d":"2018-10-07","drain":143,"lorry":0,"point":6},{"d":"2018-10-11","drain":130,"lorry":0,"point":6},{"d":"2018-10-15","drain":122,"lorry":0,"point":6},{"d":"2018-10-19","drain":91,"lorry":0,"point":5},{"d":"2018-10-25","drain":85,"lorry":0,"point":5},{"d":"2018-10-31","drain":80,"lorry":0,"point":5},{"d":"2018-11-07","drain":91,"lorry":0,"point":5},{"d":"2018-11-12","drain":75,"lorry":0,"point":5},{"d":"2018-11-18","drain":70,"lorry":0,"point":5},{"d":"2018-11-26","drain":59,"lorry":0,"point":4},{"d":"2018-12-02","drain":55,"lorry":0,"point":4},{"d":"2018-12-09","drain":48,"lorry":0,"point":4},{"d":"2018-12-15","drain":40,"lorry":0,"point":4},{"d":"2018-12-21","drain":34,"lorry":0,"point":3},{"d":"2018-12-28","drain":28,"lorry":0,"point":3},{"d":"2019-01-03","drain":21,"lorry":0,"point":3},{"d":"2019-01-09","drain":18,"lorry":0,"point":3},{"d":"2019-01-15","drain":12,"lorry":0,"point":2},{"d":"2019-01-21","drain":15,"lorry":0,"point":2},{"d":"2019-01-28","drain":17,"lorry":0,"point":3},{"d":"2019-02-03","drain":20,"lorry":0,"point":3},{"d":"2019-02-09","drain":21,"lorry":0,"point":3},{"d":"2019-02-15","drain":25,"lorry":0,"point":3},{"d":"2019-02-22","drain":27,"lorry":0,"point":3},{"d":"2019-02-28","drain":30,"lorry":0,"point":3},{"d":"2019-03-06","drain":34,"lorry":0,"point":3},{"d":"2019-03-10","drain":48,"lorry":0,"point":4},{"d":"2019-03-14","drain":50,"lorry":0,"point":4},{"d":"2019-03-20","drain":45,"lorry":0,"point":4},{"d":"2019-03-25","drain":38,"lorry":0,"point":4},
{"d":"2019-04-01","drain":40,"lorry":0,"point":4},{"d":"2019-04-07","drain":42,"lorry":0,"point":4},{"d":"2019-04-13","drain":40,"lorry":0,"point":4},{"d":"2019-04-19","drain":38,"lorry":0,"point":4},{"d":"2019-04-26","drain":38,"lorry":0,"point":4},{"d":"2019-05-02","drain":40,"lorry":0,"point":4},{"d":"2019-05-08","drain":42,"lorry":0,"point":4},{"d":"2019-05-15","drain":48,"lorry":0,"point":4},{"d":"2019-05-21","drain":55,"lorry":0,"point":4},{"d":"2019-05-27","drain":70,"lorry":0,"point":5},{"d":"2019-06-01","drain":75,"lorry":0,"point":5},{"d":"2019-06-06","drain":80,"lorry":0,"point":5},{"d":"2019-06-11","drain":100,"lorry":0,"point":5},{"d":"2019-06-15","drain":122,"lorry":0,"point":6},{"d":"2019-06-18","drain":110,"lorry":0,"point":6},{"d":"2019-06-23","drain":101,"lorry":0,"point":5},{"d":"2019-06-28","drain":120,"lorry":0,"point":6},{"d":"2019-07-01","drain":143,"lorry":0,"point":6},{"d":"2019-07-05","drain":160,"lorry":0,"point":7},{"d":"2019-07-08","drain":190,"lorry":0,"point":7},{"d":"2019-07-10","drain":228,"lorry":0,"point":8},{"d":"2019-07-12","drain":200,"lorry":0,"point":7},{"d":"2019-07-16","drain":175,"lorry":0,"point":7},{"d":"2019-07-21","drain":165,"lorry":0,"point":7},{"d":"2019-07-26","drain":154,"lorry":0,"point":6},{"d":"2019-07-31","drain":140,"lorry":0,"point":6},{"d":"2019-08-05","drain":125,"lorry":0,"point":6},{"d":"2019-08-10","drain":112,"lorry":0,"point":6},{"d":"2019-08-15","drain":100,"lorry":0,"point":5},{"d":"2019-08-20","drain":91,"lorry":0,"point":5},{"d":"2019-08-26","drain":95,"lorry":0,"point":5},{"d":"2019-08-31","drain":101,"lorry":0,"point":5},{"d":"2019-09-05","drain":105,"lorry":0,"point":5},{"d":"2019-09-11","drain":112,"lorry":0,"point":6},{"d":"2019-09-16","drain":110,"lorry":0,"point":6},{"d":"2019-09-21","drain":101,"lorry":0,"point":5},{"d":"2019-09-26","drain":95,"lorry":0,"point":5},{"d":"2019-10-01","drain":85,"lorry":0,"point":5},{"d":"2019-10-06","drain":80,"lorry":0,"point":5},{"d":"2019-10-10","drain":82,"lorry":0,"point":5},{"d":"2019-10-12","drain":210,"lorry":0,"point":15},{"d":"2019-10-13","drain":333,"lorry":0,"point":25},{"d":"2019-10-16","drain":291,"lorry":0,"point":15},{"d":"2019-10-20","drain":270,"lorry":0,"point":12},{"d":"2019-10-22","drain":300,"lorry":0,"point":12},{"d":"2019-10-24","drain":460,"lorry":0,"point":25},{"d":"2019-10-26","drain":523,"lorry":0,"point":20},{"d":"2019-10-28","drain":270,"lorry":0,"point":10},{"d":"2019-10-29","drain":200,"lorry":0,"point":8},{"d":"2019-10-30","drain":544,"lorry":0,"point":20},{"d":"2019-10-31","drain":586,"lorry":0,"point":25},{"d":"2019-11-02","drain":502,"lorry":0,"point":15},{"d":"2019-11-03","drain":300,"lorry":0,"point":10},{"d":"2019-11-05","drain":185,"lorry":0,"point":7},{"d":"2019-11-08","drain":175,"lorry":0,"point":7},{"d":"2019-11-12","drain":165,"lorry":0,"point":7},{"d":"2019-11-16","drain":154,"lorry":0,"point":6},{"d":"2019-11-19","drain":133,"lorry":0,"point":6}],
"fy":[
{"p":"rain","s":"2017-04-01","e":"2018-03-31","a":178,"td":"2017-09-30","tv":207,"t":"年度平均：3.8mm"},
{"p":"rain","s":"2018-04-01","e":"2019-03-31","a":178,"td":"2018-12-01","tv":207,"t":"年度平均：2.7mm"},
{"p":"rain","s":"2019-04-01","e":"2019-11-26","a":177,"td":"2019-07-31","tv":207,"t":"年度平均：5.9mm"},
{"p":"sub","s":"2017-04-01","e":"2018-03-31","a":314,"td":"2017-08-04","tv":391,"t":"年度平均：480"},
{"p":"sub","s":"2018-04-01","e":"2019-03-31","a":314,"td":"2018-10-11","tv":355,"t":"年度平均：350"},
{"p":"sub","s":"2019-04-01","e":"2019-11-26","a":305,"td":"2019-08-03","tv":378,"t":"年度平均：540"},
{"p":"tp","s":"2017-04-01","e":"2018-03-31","a":223,"td":"2017-08-05","tv":312,"t":"年度平均：150"},
{"p":"tp","s":"2018-04-01","e":"2019-03-31","a":217,"td":"2018-10-08","tv":280,"t":"年度平均：80"},
{"p":"tp","s":"2019-04-01","e":"2019-11-26","a":217,"td":"2019-08-05","tv":304,"t":"年度平均：120"}],
"vl":[{"d":"2017-04-01","k":"s"},{"d":"2017-08-19","k":"l"},{"d":"2018-04-01","k":"l"},{"d":"2019-04-01","k":"s"}]
},
"vconcat":[
{
"width":1608.5,"height":206,
"view":{"stroke":"#a6a6a6","strokeWidth":2},
"layer":[
{"data":{"name":"rain"},
 "mark":{"type":"bar","width":1.6,"color":"#0000ff"},
 "encoding":{
  "x":{"field":"d","type":"temporal","scale":{"type":"utc","nice":false,"domain":[{"year":2017,"month":4,"date":1,"utc":true},{"year":2019,"month":12,"date":1,"utc":true}]},
   "axis":{"orient":"top","title":null,"tickCount":{"interval":"month","step":1},"labelExpr":"utcmonth(datum.value) % 4 == 3 ? utcFormat(datum.value, \"'%y/%-m/%-d\") : ''","labelOverlap":false,"labelBound":false,"labelFlush":false,"labelBaseline":"middle","labelPadding":37,"ticks":false,"domain":false,"grid":true,
    "gridColor":{"condition":{"test":"utcmonth(datum.value) % 4 == 3","value":"#7f7f7f"},"value":"#a6a6a6"},
    "gridDash":{"condition":{"test":"utcmonth(datum.value) % 4 == 3","value":[]},"value":[4,3]},
    "gridWidth":{"condition":{"test":"utcmonth(datum.value) % 4 == 3","value":1.5},"value":1}}},
  "y":{"field":"v","type":"quantitative","scale":{"domain":[0,300],"nice":false},
   "axis":{"values":[0,40,80,120,160,200,240,280],"tickCount":12,"labelOverlap":false,"title":"降雨　（ｍｍ／日）","titleFontSize":19,"titleX":-153.5,"titleY":66,"titleAngle":270,"titleAlign":"center","titleBaseline":"middle","labelPadding":35,"ticks":false,"domain":false,"gridColor":"#d9d9d9","gridWidth":2}}}},
{"data":{"name":"rainlab"},
 "mark":{"type":"text","font":"Liberation Sans","fontSize":23,"color":"black","baseline":"middle"},
 "encoding":{"x":{"field":"d","type":"temporal"},"y":{"field":"v","type":"quantitative"},"text":{"field":"t"}}},
{"data":{"name":"months"},
 "mark":{"type":"rect","fill":"white","stroke":"black","strokeWidth":1},
 "encoding":{"x":{"field":"m","type":"temporal"},"x2":{"field":"m2"},"y":{"datum":306.3},"y2":{"datum":241.7}}},
{"data":{"name":"months"},
 "mark":{"type":"rule","color":"black","strokeWidth":3.5},
 "encoding":{"x":{"field":"m","type":"temporal"},"x2":{"field":"m2"},"y":{"datum":306.3}}},
{"data":{"name":"months"},
 "mark":{"type":"rule","color":"black","strokeWidth":3.5},
 "encoding":{"x":{"field":"m","type":"temporal"},"x2":{"field":"m2"},"y":{"datum":241.7}}},
{"data":{"name":"months"},
 "mark":{"type":"text","font":"Liberation Sans Narrow, Liberation Sans","fontSize":18,"color":"black","baseline":"middle","align":"center"},
 "encoding":{"x":{"field":"m","type":"temporal","timeUnit":"utcyearmonth","bandPosition":0.5},"y":{"datum":279.6},"text":{"field":"rain","type":"quantitative","format":".1f"}}},
{"data":{"name":"fy"},"transform":[{"filter":"datum.p == 'rain'"}],
 "mark":{"type":"rule","color":"black","strokeWidth":2},
 "encoding":{"x":{"field":"s","type":"temporal"},"x2":{"field":"e"},"y":{"field":"a","type":"quantitative"}}},
{"data":{"name":"fy"},"transform":[{"filter":"datum.p == 'rain'"}],
 "mark":{"type":"point","shape":"triangle-left","filled":true,"color":"black","opacity":1,"size":220,"xOffset":7},
 "encoding":{"x":{"field":"s","type":"temporal"},"y":{"field":"a","type":"quantitative"}}},
{"data":{"name":"fy"},"transform":[{"filter":"datum.p == 'rain'"}],
 "mark":{"type":"point","shape":"triangle-right","filled":true,"color":"black","opacity":1,"size":220,"xOffset":-7},
 "encoding":{"x":{"field":"e","type":"temporal"},"y":{"field":"a","type":"quantitative"}}},
{"data":{"name":"fy"},"transform":[{"filter":"datum.p == 'rain'"}],
 "mark":{"type":"text","font":"Noto Sans CJK JP","fontWeight":"bold","fontSize":25,"color":"black","baseline":"middle","align":"center"},
 "encoding":{"x":{"field":"td","type":"temporal"},"y":{"field":"tv","type":"quantitative"},"text":{"field":"t"}}},
{"data":{"values":[{"d":"2017-03-19","v":319,"t":"合計："}]},
 "mark":{"type":"text","font":"Noto Sans CJK JP","fontWeight":"bold","fontSize":21,"color":"black","baseline":"middle","align":"center"},
 "encoding":{"x":{"field":"d","type":"temporal"},"y":{"field":"v","type":"quantitative"},"text":{"field":"t"}}},
{"data":{"name":"vl"},
 "mark":{"type":"rule","color":"#595959","strokeWidth":2.5,"strokeDash":[10,6]},
 "encoding":{"x":{"field":"d","type":"temporal"},"y":{"datum":306.3},"y2":{"datum":-55}}}
]
},
{
"width":1608.5,"height":260,
"view":{"stroke":"#a6a6a6","strokeWidth":2},
"resolve":{"scale":{"y":"independent"},"axis":{"y":"independent"}},
"layer":[
{"data":{"name":"sub"},
 "mark":{"type":"area","color":"#0099ff"},
 "encoding":{
  "x":{"field":"d","type":"temporal","scale":{"type":"utc","nice":false,"domain":[{"year":2017,"month":4,"date":1,"utc":true},{"year":2019,"month":12,"date":1,"utc":true}]},
   "axis":{"orient":"bottom","title":"サブドレンくみ上げ量","titleFontSize":26,"titleX":769.5,"titleY":67,"titleAlign":"center","titleBaseline":"middle","tickCount":{"interval":"month","step":1},"labelExpr":"utcmonth(datum.value) % 4 == 3 ? utcFormat(datum.value, \"'%y/%-m/%-d\") : ''","labelOverlap":false,"labelBound":false,"labelFlush":false,"labelBaseline":"middle","labelPadding":29,"ticks":true,"tickSize":6,"tickColor":"#7f7f7f","domain":false,"grid":true,
    "gridColor":{"condition":{"test":"utcmonth(datum.value) % 4 == 3","value":"#7f7f7f"},"value":"#a6a6a6"},
    "gridDash":{"condition":{"test":"utcmonth(datum.value) % 4 == 3","value":[]},"value":[4,3]},
    "gridWidth":{"condition":{"test":"utcmonth(datum.value) % 4 == 3","value":1.5},"value":1}}},
  "y":{"field":"v","type":"quantitative","scale":{"domain":[0,1500],"nice":false},
   "axis":{"orient":"left","values":[0,250,500,750,1000,1250,1500],"tickCount":12,"labelOverlap":false,"format":"d","title":"くみ上げ量（m³/日）","titleFontSize":22,"titleX":-153.5,"titleY":143,"titleAngle":270,"titleAlign":"center","titleBaseline":"middle","labelPadding":27.5,"ticks":false,"domain":false,"gridColor":"#d9d9d9","gridWidth":2}}}},
{"layer":[
 {"data":{"name":"pits"},
  "mark":{"type":"line","strokeWidth":3},
  "encoding":{"x":{"field":"d","type":"temporal"},
   "y":{"field":"n","type":"quantitative","scale":{"domain":[0,50],"nice":false},
    "axis":{"orient":"right","values":[0,10,20,30,40,50],"tickCount":12,"labelOverlap":false,"grid":false,"domain":false,"ticks":true,"tickSize":6,"tickColor":"#a6a6a6","labelPadding":23,"title":"稼働サブドレン数（基）","titleFontSize":22,"titleAngle":270,"titleX":96,"titleY":135.5,"titleAlign":"center","titleBaseline":"middle"}},
   "stroke":{"datum":"稼働サブドレンピット数","type":"nominal","scale":{"range":["#ff3300"]},
    "legend":{"orient":"none","legendX":-18.5,"legendY":-19,"title":null,"symbolType":"stroke","symbolSize":2601,"symbolStrokeWidth":3,"labelFont":"Noto Sans CJK JP","labelFontSize":21,"labelColor":"black","labelLimit":400,"labelOffset":5,"padding":0}}}},
 {"data":{"values":[{"d":"2017-04-01","n":42},{"d":"2018-12-26","n":45},{"d":"2019-12-01","n":45}]},
  "mark":{"type":"line","interpolate":"step-after","color":"#ff3300","strokeWidth":2,"strokeDash":[6,4]},
  "encoding":{"x":{"field":"d","type":"temporal"},"y":{"field":"n","type":"quantitative"}}},
 {"data":{"values":[{"d":"2017-09-25","n":45.5,"t":"全サブドレンピット数：42基（~2018.12.25),45基（2018.12.26~)"}]},
  "mark":{"type":"text","font":"Noto Sans CJK JP","fontSize":26,"color":"#ff3300","baseline":"middle","align":"left"},
  "encoding":{"x":{"field":"d","type":"temporal"},"y":{"field":"n","type":"quantitative"},"text":{"field":"t"}}}
]},
{"layer":[
 {"data":{"name":"months"},
  "mark":{"type":"rect","fill":"white","stroke":"black","strokeWidth":1},
  "encoding":{"x":{"field":"m","type":"temporal"},"x2":{"field":"m2"},"y":{"datum":266.5,"type":"quantitative","scale":{"domain":[0,1500],"nice":false},"axis":null},"y2":{"datum":-12.7}}},
 {"data":{"name":"months"},
  "mark":{"type":"rule","color":"black","strokeWidth":3.5},
  "encoding":{"x":{"field":"m","type":"temporal"},"x2":{"field":"m2"},"y":{"datum":266.5,"type":"quantitative","axis":null}}},
 {"data":{"name":"months"},
  "mark":{"type":"rule","color":"black","strokeWidth":3.5},
  "encoding":{"x":{"field":"m","type":"temporal"},"x2":{"field":"m2"},"y":{"datum":-12.7,"type":"quantitative","axis":null}}},
 {"data":{"name":"months"},
  "mark":{"type":"text","font":"Liberation Sans Narrow, Liberation Sans","fontSize":22,"color":"black","baseline":"middle","align":"center"},
  "encoding":{"x":{"field":"m","type":"temporal","timeUnit":"utcyearmonth","bandPosition":0.5},"y":{"datum":155.8,"type":"quantitative","axis":null},"text":{"field":"sub","type":"quantitative","format":"d"}}},
 {"data":{"name":"fy"},"transform":[{"filter":"datum.p == 'sub'"}],
  "mark":{"type":"rule","color":"black","strokeWidth":2},
  "encoding":{"x":{"field":"s","type":"temporal"},"x2":{"field":"e"},"y":{"field":"a","type":"quantitative","axis":null}}},
 {"data":{"name":"fy"},"transform":[{"filter":"datum.p == 'sub'"}],
  "mark":{"type":"point","shape":"triangle-left","filled":true,"color":"black","opacity":1,"size":220,"xOffset":7},
  "encoding":{"x":{"field":"s","type":"temporal"},"y":{"field":"a","type":"quantitative","axis":null}}},
 {"data":{"name":"fy"},"transform":[{"filter":"datum.p == 'sub'"}],
  "mark":{"type":"point","shape":"triangle-right","filled":true,"color":"black","opacity":1,"size":220,"xOffset":-7},
  "encoding":{"x":{"field":"e","type":"temporal"},"y":{"field":"a","type":"quantitative","axis":null}}},
 {"data":{"name":"fy"},"transform":[{"filter":"datum.p == 'sub'"}],
  "mark":{"type":"text","font":"Noto Sans CJK JP","fontWeight":"bold","fontSize":25,"color":"black","baseline":"middle","align":"center"},
  "encoding":{"x":{"field":"td","type":"temporal"},"y":{"field":"tv","type":"quantitative","axis":null},"text":{"field":"t"}}},
 {"data":{"values":[{"d":"2017-04-09","v":389,"t":"平均："}]},
  "mark":{"type":"text","font":"Noto Sans CJK JP","fontWeight":"bold","fontSize":21,"color":"black","baseline":"middle","align":"center"},
  "encoding":{"x":{"field":"d","type":"temporal"},"y":{"field":"v","type":"quantitative","axis":null},"text":{"field":"t"}}},
 {"data":{"values":[{"a":"2017-03-08","b":"2017-09-18","top":1584,"bot":1324}]},
  "mark":{"type":"rect","fill":"white","stroke":"#7f7f7f","strokeWidth":1.5},
  "encoding":{"x":{"field":"a","type":"temporal"},"x2":{"field":"b"},"y":{"field":"top","type":"quantitative","axis":null},"y2":{"field":"bot"}}},
 {"data":{"name":"vl"},
  "mark":{"type":"rule","color":"#595959","strokeWidth":2.5,"strokeDash":[10,6]},
  "encoding":{"x":{"field":"d","type":"temporal"},"y":{"datum":1500,"type":"quantitative","axis":null},"y2":{"datum":-216}}}
]}
]
},
{
"width":1608.5,"height":299,
"view":{"stroke":null},
"layer":[
{"data":{"name":"months"},"transform":[{"filter":"utcmonth(toDate(datum.m2)) % 4 != 3"}],
 "mark":{"type":"rule","color":"#a6a6a6","strokeWidth":1,"strokeDash":[4,3]},
 "encoding":{"x":{"field":"m2","type":"temporal"},"y":{"datum":0},"y2":{"datum":1293}}},
{"data":{"name":"months"},"transform":[{"filter":"utcmonth(toDate(datum.m2)) % 4 == 3"}],
 "mark":{"type":"rule","color":"#7f7f7f","strokeWidth":1.5},
 "encoding":{"x":{"field":"m2","type":"temporal"},"y":{"datum":0},"y2":{"datum":1293}}},
{"data":{"name":"tp"},
 "transform":[{"fold":["drain","lorry","point"],"as":["key","value"]}],
 "mark":{"type":"area"},
 "encoding":{
  "x":{"field":"d","type":"temporal","scale":{"type":"utc","nice":false,"domain":[{"year":2017,"month":4,"date":1,"utc":true},{"year":2019,"month":12,"date":1,"utc":true}]},
   "axis":{"orient":"bottom","title":"T.P.+2.5m盤くみ上げ量（ウェルポイント・地下水ドレン・くみ上げ車両）","titleFontSize":24,"titleX":769.5,"titleY":65,"titleAlign":"center","titleBaseline":"middle","tickCount":{"interval":"month","step":1},"labelExpr":"utcmonth(datum.value) % 4 == 3 ? utcFormat(datum.value, \"'%y/%-m/%-d\") : ''","labelOverlap":false,"labelBound":false,"labelFlush":false,"labelBaseline":"middle","labelPadding":29.7,"ticks":true,"tickSize":6,"tickColor":"#7f7f7f","domain":true,"domainColor":"#a6a6a6","domainWidth":2,"grid":false}},
  "y":{"field":"value","type":"quantitative","stack":"zero","scale":{"domain":[0,1892],"nice":false},
   "axis":{"values":[0,250,500,750,1000,1250,1500],"tickCount":12,"labelOverlap":false,"format":",d","title":"くみ上げ量（m³/日）","titleFontSize":22,"titleX":-153.5,"titleY":225,"titleAngle":270,"titleAlign":"center","titleBaseline":"middle","labelPadding":35,"ticks":false,"domain":false,"gridColor":"#d9d9d9","gridWidth":2}},
  "color":{"field":"key","type":"nominal","scale":{"domain":["drain","point","lorry"],"range":["#00b050","#cc3300","#000000"]},
   "legend":{"orient":"none","legendX":641.5,"legendY":114,"direction":"horizontal","columns":3,"columnPadding":80,"title":null,"symbolType":"square","symbolSize":220,"symbolStrokeWidth":0,"labelFont":"Noto Sans CJK JP","labelFontSize":23,"labelColor":"black","labelLimit":600,"labelOffset":5,"padding":0,
    "labelExpr":"datum.label == 'drain' ? '地下水ドレン' : datum.label == 'point' ? 'ウェルポイント' : 'くみ上げ車両によるくみ上げ・移送'"}},
  "order":{"field":"key","sort":"ascending"}}},
{"data":{"name":"months"},
 "mark":{"type":"rect","fill":"white","stroke":"black","strokeWidth":1},
 "encoding":{"x":{"field":"m","type":"temporal"},"x2":{"field":"m2"},"y":{"datum":1561},"y2":{"datum":1293}}},
{"data":{"name":"months"},
 "mark":{"type":"rule","color":"black","strokeWidth":3.5},
 "encoding":{"x":{"field":"m","type":"temporal"},"x2":{"field":"m2"},"y":{"datum":1561}}},
{"data":{"name":"months"},
 "mark":{"type":"rule","color":"black","strokeWidth":3.5},
 "encoding":{"x":{"field":"m","type":"temporal"},"x2":{"field":"m2"},"y":{"datum":1293}}},
{"data":{"name":"months"},
 "mark":{"type":"text","font":"Liberation Sans Narrow, Liberation Sans","fontSize":22,"color":"black","baseline":"middle","align":"center"},
 "encoding":{"x":{"field":"m","type":"temporal","timeUnit":"utcyearmonth","bandPosition":0.5},"y":{"datum":1460},"text":{"field":"tp","type":"quantitative","format":"d"}}},
{"data":{"name":"fy"},"transform":[{"filter":"datum.p == 'tp'"}],
 "mark":{"type":"rule","color":"black","strokeWidth":2},
 "encoding":{"x":{"field":"s","type":"temporal"},"x2":{"field":"e"},"y":{"field":"a","type":"quantitative"}}},
{"data":{"name":"fy"},"transform":[{"filter":"datum.p == 'tp'"}],
 "mark":{"type":"point","shape":"triangle-left","filled":true,"color":"black","opacity":1,"size":220,"xOffset":7},
 "encoding":{"x":{"field":"s","type":"temporal"},"y":{"field":"a","type":"quantitative"}}},
{"data":{"name":"fy"},"transform":[{"filter":"datum.p == 'tp'"}],
 "mark":{"type":"point","shape":"triangle-right","filled":true,"color":"black","opacity":1,"size":220,"xOffset":-7},
 "encoding":{"x":{"field":"e","type":"temporal"},"y":{"field":"a","type":"quantitative"}}},
{"data":{"name":"fy"},"transform":[{"filter":"datum.p == 'tp'"}],
 "mark":{"type":"text","font":"Noto Sans CJK JP","fontWeight":"bold","fontSize":25,"color":"black","baseline":"middle","align":"center"},
 "encoding":{"x":{"field":"td","type":"temporal"},"y":{"field":"tv","type":"quantitative"},"text":{"field":"t"}}},
{"data":{"values":[{"a":"2018-03-11","b":"2019-11-25","top":1218,"bot":965}]},
 "mark":{"type":"rect","fill":"white","stroke":"#404040","strokeWidth":1.5},
 "encoding":{"x":{"field":"a","type":"temporal"},"x2":{"field":"b"},"y":{"field":"top","type":"quantitative"},"y2":{"field":"bot"}}},
{"data":{"values":[{"d":"2017-03-24","v":1641,"t":"平均："}]},
 "mark":{"type":"text","font":"Noto Sans CJK JP","fontWeight":"bold","fontSize":21,"color":"black","baseline":"middle","align":"center"},
 "encoding":{"x":{"field":"d","type":"temporal"},"y":{"field":"v","type":"quantitative"},"text":{"field":"t"}}},
{"data":{"values":[{"d":"2017-11-05","v":1146,"t":"1,072"}]},
 "mark":{"type":"text","font":"Liberation Sans","fontSize":24,"color":"black","baseline":"middle","align":"center"},
 "encoding":{"x":{"field":"d","type":"temporal"},"y":{"field":"v","type":"quantitative"},"text":{"field":"t"}}},
{"data":{"name":"vl"},"transform":[{"filter":"datum.k == 's'"}],
 "mark":{"type":"rule","color":"#595959","strokeWidth":2.5,"strokeDash":[10,6]},
 "encoding":{"x":{"field":"d","type":"temporal"},"y":{"datum":1892},"y2":{"datum":-152}}},
{"data":{"name":"vl"},"transform":[{"filter":"datum.k == 'l'"}],
 "mark":{"type":"rule","color":"#595959","strokeWidth":2.5,"strokeDash":[10,6]},
 "encoding":{"x":{"field":"d","type":"temporal"},"y":{"datum":1892},"y2":{"datum":-500}}}
]
}
]
}
